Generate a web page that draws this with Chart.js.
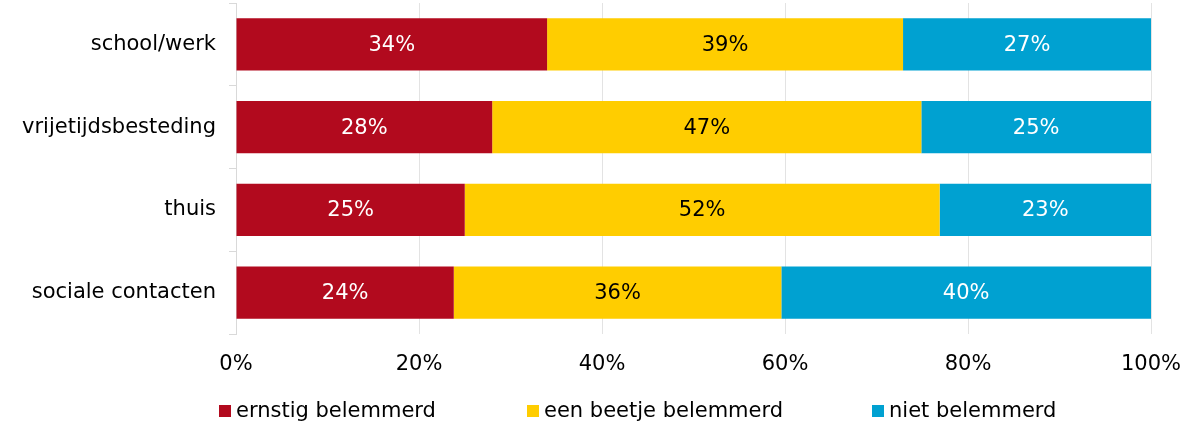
<!DOCTYPE html>
<html>
<head>
<meta charset="utf-8">
<script src="https://cdn.jsdelivr.net/npm/chart.js@4/dist/chart.umd.min.js"></script>
<style>
  html, body { margin: 0; padding: 0; background: #fff; overflow: hidden; }
  canvas { display: block; }
</style>
</head>
<body>
<canvas id="belemmerd" width="1183" height="421"></canvas>
<script>
var categories = ['school/werk', 'vrijetijdsbesteding', 'thuis', 'sociale contacten'];
var seriesNames = ['ernstig belemmerd', 'een beetje belemmerd', 'niet belemmerd'];
var ernstig = [34.0, 28.0, 25.0, 23.8];
var beetje = [38.9, 46.9, 51.9, 35.8];
var niet = [27.1, 25.1, 23.1, 40.4];
var xTicks = [0, 20, 40, 60, 80, 100];

var kleuren = ['#B20A1E', '#FFCD00', '#00A1D1'];
var labelKleuren = ['#ffffff', '#000000', '#ffffff'];
var font = { family: 'DejaVu Sans', size: 21 };

// percentages in the middle of every segment
var segmentLabels = {
    id: 'segmentLabels',
    afterDatasetsDraw: function (chart) {
        var ctx = chart.ctx;
        ctx.save();
        ctx.font = '21px "DejaVu Sans"';
        ctx.textAlign = 'center';
        ctx.textBaseline = 'middle';
        chart.data.datasets.forEach(function (ds, i) {
            var meta = chart.getDatasetMeta(i);
            ctx.fillStyle = labelKleuren[i];
            meta.data.forEach(function (bar, j) {
                var p = bar.getCenterPoint();
                ctx.fillText(Math.round(ds.data[j]) + '%', p.x, p.y + 1);
            });
        });
        ctx.restore();
    }
};

// legend at the bottom, items placed like the original
var onderLegenda = {
    id: 'onderLegenda',
    afterDraw: function (chart, args, opts) {
        var ctx = chart.ctx;
        ctx.save();
        ctx.font = '21px "DejaVu Sans"';
        ctx.textBaseline = 'alphabetic';
        ctx.textAlign = 'left';
        chart.data.datasets.forEach(function (ds, i) {
            var x = opts.x[i];
            ctx.fillStyle = ds.backgroundColor;
            ctx.fillRect(x, opts.y - 12, 12, 12);
            ctx.fillStyle = '#000';
            ctx.fillText(ds.label, x + 17, opts.y);
        });
        ctx.restore();
    }
};

var ctx = document.getElementById('belemmerd');
var chart = new Chart(ctx, {
    type: 'bar',
    data: {
        labels: categories,
        datasets: [
            { label: seriesNames[0], data: ernstig, backgroundColor: kleuren[0] },
            { label: seriesNames[1], data: beetje, backgroundColor: kleuren[1] },
            { label: seriesNames[2], data: niet, backgroundColor: kleuren[2] }
        ]
    },
    plugins: [segmentLabels, onderLegenda],
    options: {
        indexAxis: 'y',
        responsive: false,
        animation: false,
        devicePixelRatio: 1,
        layout: { padding: { left: 0, right: 32, top: 3, bottom: 42 } },
        datasets: {
            bar: { categoryPercentage: 1, barPercentage: 0.63, borderWidth: 0 }
        },
        scales: {
            x: {
                stacked: true,
                min: 0,
                max: 100,
                afterBuildTicks: function (scale) {
                    scale.ticks = xTicks.map(function (v) { return { value: v }; });
                },
                afterFit: function (scale) {
                    scale.height = 45;
                    scale.paddingLeft = 0;
                    scale.paddingRight = 0;
                },
                grid: { color: '#e3e3e3', lineWidth: 1, drawTicks: false },
                border: { display: false },
                ticks: {
                    color: '#000',
                    font: font,
                    padding: 18,
                    maxRotation: 0,
                    callback: function (v) { return v + '%'; }
                }
            },
            y: {
                stacked: true,
                afterFit: function (scale) {
                    scale.width = 236;
                    scale.paddingTop = 0;
                    scale.paddingBottom = 0;
                },
                grid: {
                    drawOnChartArea: false,
                    drawTicks: true,
                    tickLength: 7,
                    color: '#d9d9d9',
                    offset: true
                },
                border: { display: true, color: '#d9d9d9' },
                ticks: { color: '#000', font: font, padding: 13 }
            }
        },
        plugins: {
            legend: { display: false },
            tooltip: { enabled: false },
            onderLegenda: { x: [219, 527, 872], y: 417 }
        }
    }
});
</script>
</body>
</html>
